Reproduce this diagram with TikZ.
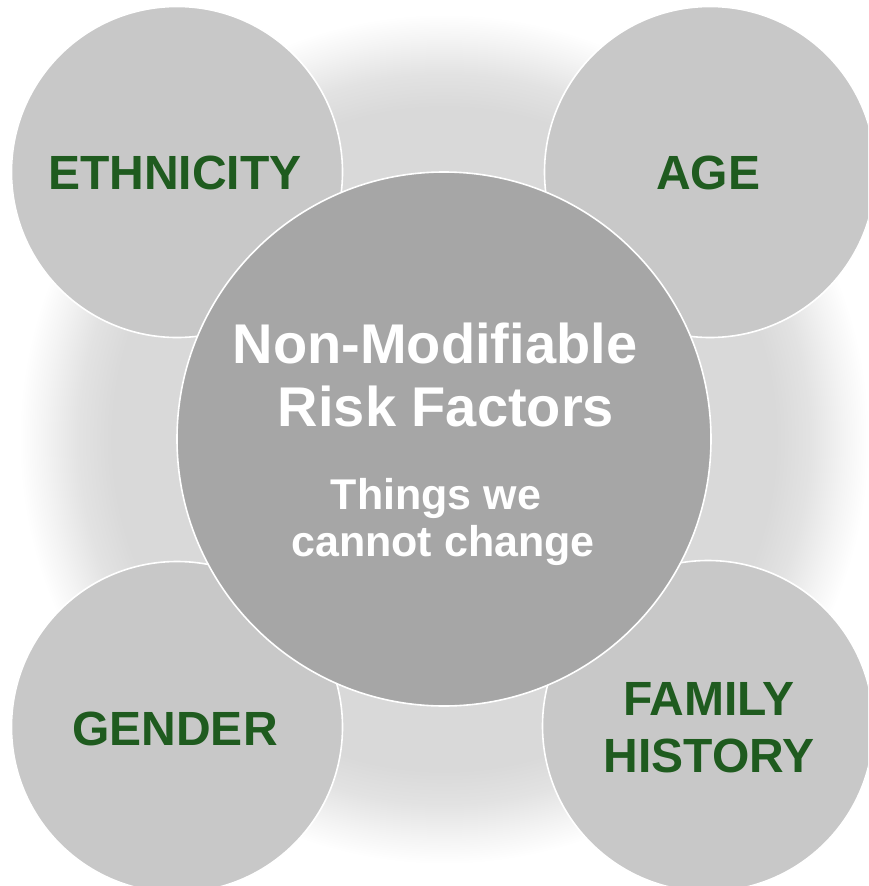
\documentclass[tikz,border=0pt]{standalone}
\usepackage{fontspec}
\setmainfont{Liberation Sans}
\definecolor{glowgrey}{HTML}{D9D9D9}
\definecolor{outergrey}{HTML}{C8C8C8}
\definecolor{coregrey}{HTML}{A6A6A6}
\definecolor{factorgreen}{HTML}{1F5B1F}
% soft halo: flat grey in the middle, fading out to white at the rim
\pgfdeclareradialshading{halo}{\pgfpoint{0bp}{0bp}}{%
  color(0bp)=(glowgrey); color(19.5bp)=(glowgrey);
  color(21.5bp)=(glowgrey!75!white); color(23.5bp)=(glowgrey!30!white);
  color(25bp)=(white); color(50bp)=(white)}
\begin{document}
\begin{tikzpicture}[x=1pt,y=-1pt,
  factor/.style={circle,fill=outergrey,draw=white,line width=1.6pt,
    minimum size=331pt,inner sep=0pt},
  core/.style={circle,fill=coregrey,draw=white,line width=1.6pt,
    minimum size=534pt,inner sep=0pt},
  factortext/.style={anchor=base,inner sep=0pt,text=factorgreen,
    font=\fontsize{48}{57}\selectfont\bfseries},
  titletext/.style={anchor=base,inner sep=0pt,text=white,
    font=\fontsize{56}{63}\selectfont\bfseries},
  subtext/.style={anchor=base,inner sep=0pt,text=white,
    font=\fontsize{43}{47}\selectfont\bfseries}]
  \useasboundingbox (0,0) rectangle (868,886);
  \begin{scope}
    \clip (0,0) rectangle (868,886);
    \fill[white] (0,0) rectangle (868,886);
    % halo behind the central circle
    \shade[shading=halo] (444,439) circle[radius=425];
    % the four outer circles
    \node[factor] (eth) at (177,172) {};
    \node[factor] (age) at (710,172) {};
    \node[factor] (gen) at (177,727) {};
    \node[factor] (fam) at (708,726) {};
    % the central circle on top
    \node[core] (core) at (444,439) {};
  \end{scope}
  % labels of the outer circles
  \node[factortext] (ethlabel) at (175,189) {ETHNICITY};
  \node[factortext] (agelabel) at (708,189) {AGE};
  \node[factortext] (genlabel) at (175,745) {GENDER};
  \node[factortext] (famlabel1) at (709,715) {FAMILY};
  \node[factortext] (famlabel2) at (709,772) {HISTORY};
  % text of the central circle
  \node[titletext] (title1) at (435,363) {Non-Modifiable};
  \node[titletext] (title2) at (446,426) {Risk Factors};
  \node[subtext] (sub1) at (436,509) {Things we};
  \node[subtext] (sub2) at (443,556) {cannot change};
\end{tikzpicture}
\end{document}
